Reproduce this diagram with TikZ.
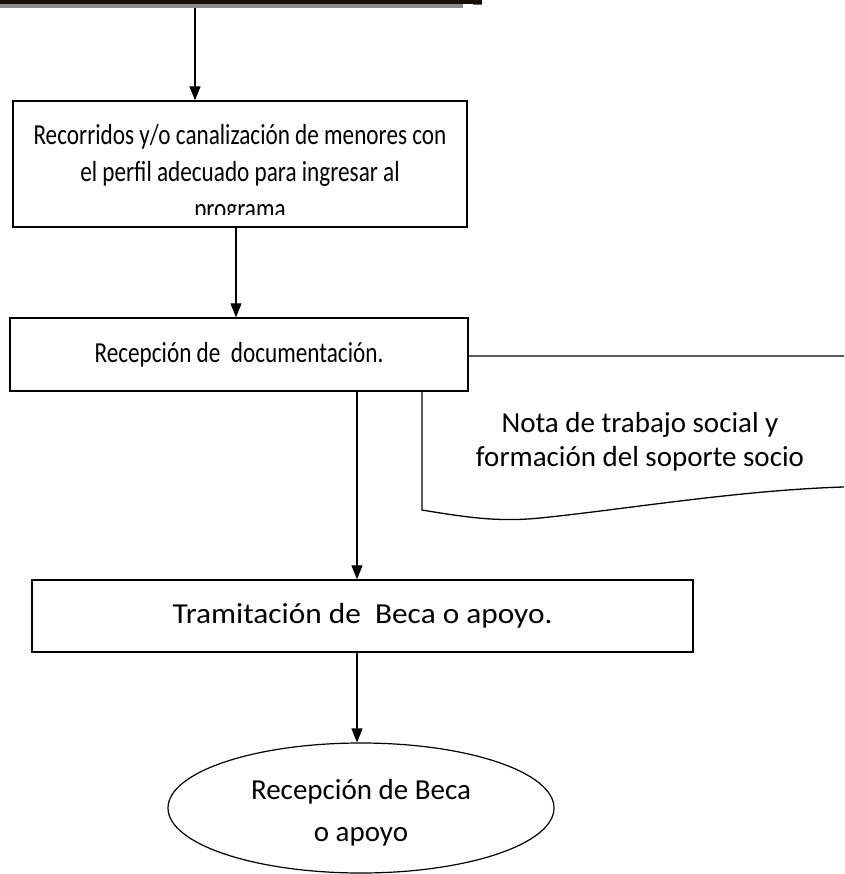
\documentclass[tikz,border=0pt]{standalone}
\usepackage{fontspec}
\setmainfont{Carlito}
\newfontfamily\narrowcal{Carlito}[FakeStretch=0.8]
\newfontfamily\widecal{Carlito}[FakeStretch=1.08]
\usetikzlibrary{positioning}
\usetikzlibrary{arrows.meta}
\usetikzlibrary{shapes.geometric}

\tikzset{
  caja/.style={draw, line width=1.4pt, fill=white, inner sep=0pt},
  flecha/.style={-{Triangle[length=14pt,width=11pt]}, line width=1.2pt},
  letra/.style={font=\fontsize{29}{37}\selectfont, align=center}
}

\begin{document}
\begin{tikzpicture}[x=1pt,y=-1pt]
            \useasboundingbox (0,0) rectangle (844,874);
            \fill[black!88!brown] (0,0) rectangle (482,4.5);
            \fill[black!45] (0,4.5) rectangle (463,8);
            \fill[black!60] (473,4.5) rectangle (482,5.5);

            \coordinate (inicio) at (195,8);
            \node[caja, minimum width=454pt, minimum height=126pt] (rec) at (240,164) {};
            \begin{scope}
              \clip (13,101) rectangle (467,215);
              \node[letra, font=\narrowcal\fontsize{29}{37}\selectfont] (rectxt) at (240,173.5)
                {Recorridos y/o canalización de menores con\\el perfil adecuado para ingresar al\\programa};
            \end{scope}
            \draw[flecha] (inicio) -- (inicio |- rec.north);

            \draw[line width=1.3pt] (844,356) -- (422,356) -- (422,510)
              .. controls (470,518) and (500,522) .. (540,518)
              .. controls (620,510) and (740,490) .. (844,487);
            \node[letra, font=\fontsize{29}{34}\selectfont] (nota) at (640,442)
              {Nota de trabajo social y\\formación del soporte socio};

            \node[caja, minimum width=458pt, minimum height=73pt,
                  font=\narrowcal\fontsize{29}{37}\selectfont] (doc) at (239,354.5)
              {Recepción de\ \ documentación.};
            \coordinate (c2) at (236,0);
            \draw[flecha] (c2 |- rec.south) -- (c2 |- doc.north);

            \node[caja, minimum width=661pt, minimum height=72pt,
                  font=\widecal\fontsize{29}{37}\selectfont] (tram) at (362.5,616)
              {Tramitación de\ \ Beca o apoyo.};
            \coordinate (c3) at (357,0);
            \draw[flecha] (c3 |- doc.south) -- (c3 |- tram.north);

            \node[draw, ellipse, line width=1.2pt, inner sep=0pt, minimum width=386pt,
                  minimum height=130pt] (beca) at (361,808) {};
            \node[letra, font=\fontsize{29}{42}\selectfont] (becatxt) at (361,813)
              {Recepción de Beca\\o apoyo};
            \draw[flecha] (c3 |- tram.south) -- (c3 |- beca.north);
        \end{tikzpicture}
\end{document}
